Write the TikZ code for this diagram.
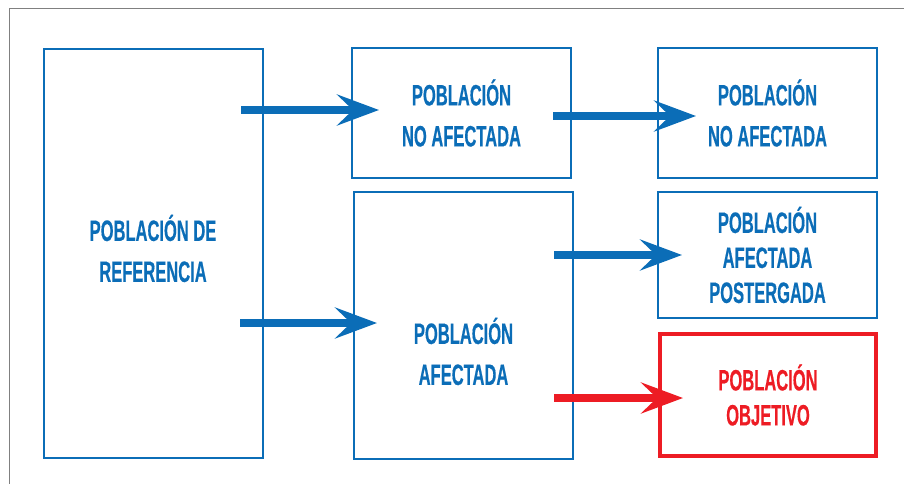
\documentclass[tikz,border=0pt]{standalone}
\usepackage{fontspec}
\setmainfont{Liberation Sans}
\newfontfamily\condfont{Liberation Sans}[FakeStretch=0.56,FakeBold=0.4]
\usepackage{tikz}
\usetikzlibrary{arrows.meta,positioning,calc}
\definecolor{azul}{RGB}{11,109,183}
\definecolor{rojo}{RGB}{237,28,36}

\begin{document}
\begin{tikzpicture}[
x=1pt,y=-1pt,
font=\condfont\bfseries\fontsize{29.5}{41}\selectfont,
caja/.style={draw=azul,line width=2pt,text=azul,align=center,inner sep=0pt,outer sep=0pt},
cajaroja/.style={draw=rojo,line width=4pt,text=rojo,align=center,inner sep=0pt,outer sep=0pt},
flecha/.style={-{Stealth[length=42pt,width=31pt,inset=16pt]},line width=8pt,draw=azul,fill=azul},
flecharoja/.style={flecha,draw=rojo,fill=rojo},
scale=1]
    \useasboundingbox (0,0) rectangle (904,484);
    % Draw frame
    \draw[gray,line width=1pt] (904,9) -- (9,9) -- (9,484);

    % Boxes
    \node[caja,minimum width=219pt,minimum height=409pt] (ref) at (153,253.5) {};
    \node[text=azul,align=center] (reflbl) at ([yshift=5pt]ref.center) {POBLACIÓN DE\\REFERENCIA};
    \node[caja,minimum width=219pt,minimum height=130pt] (noafa) at (461.5,113) {POBLACIÓN\\NO AFECTADA};
    \node[caja,minimum width=219pt,minimum height=130pt] (noafb) at (767.5,113) {POBLACIÓN\\NO AFECTADA};
    \node[caja,minimum width=219pt,minimum height=267pt] (afect) at (463.5,325.5) {};
    \node[text=azul,align=center] (afectlbl) at ([yshift=-26pt]afect.center) {POBLACIÓN\\AFECTADA};
    \node[caja,minimum width=219pt,minimum height=126pt,font=\condfont\bfseries\fontsize{29.5}{35}\selectfont] (poster) at (767.5,255) {POBLACIÓN\\AFECTADA\\POSTERGADA};
    \node[cajaroja,minimum width=216pt,minimum height=122pt,font=\condfont\bfseries\fontsize{29.5}{35}\selectfont] (objet) at (768,395) {POBLACIÓN\\OBJETIVO};

    % Arrows
    \draw[flecha] ($(ref.east |- noafa.west)+(-21.5,-3)$) -- ($(noafa.west)+(27,-3)$);
    \draw[flecha] ($(noafa.east)+(-18,3)$) -- ($(noafb.west)+(38,3)$);
    \draw[flecha] ($(afect.east |- poster.west)+(-19,0)$) -- ($(poster.west)+(24,0)$);
    \draw[flecha] ($(ref.east |- afect.west)+(-22.5,-2.5)$) -- ($(afect.west)+(23,-2.5)$);
    \draw[flecharoja] ($(afect.east |- objet.west)+(-19,3)$) -- ($(objet.west)+(23,3)$);

\end{tikzpicture}
\end{document}
